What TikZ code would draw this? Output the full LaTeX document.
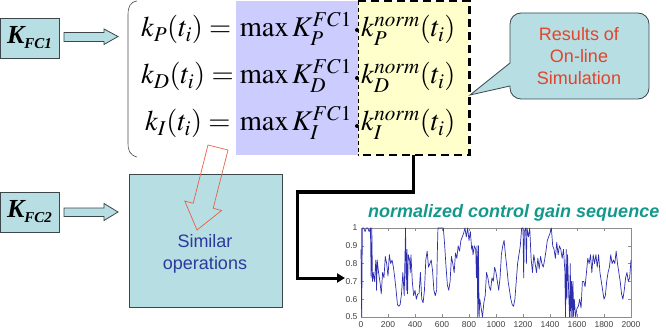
\documentclass[tikz,border=0pt]{standalone}
\usepackage{mathptmx}
\usepackage[no-math]{fontspec}
\setmainfont{Liberation Serif}
\setsansfont{Liberation Sans}
\usetikzlibrary{arrows.meta}
\definecolor{tealfill}{RGB}{183,222,226}
\definecolor{boxedge}{RGB}{60,70,75}
\definecolor{bluepanel}{RGB}{204,204,255}
\definecolor{yellowpanel}{RGB}{255,255,204}
\definecolor{redtxt}{RGB}{226,68,44}
\definecolor{simtxt}{RGB}{44,58,156}
\definecolor{titletxt}{RGB}{20,152,140}
\definecolor{plotline}{RGB}{45,45,175}
\definecolor{arrowred}{RGB}{232,96,72}
\begin{document}
\begin{tikzpicture}[x=1pt,y=-1pt,
  tealbox/.style={draw=boxedge, fill=tealfill, line width=0.8pt, inner sep=0pt},
  blockarrow/.style={draw=boxedge, fill=tealfill, line width=0.8pt},
  mathtxt/.style={inner sep=0pt, anchor=base west, font=\fontsize{28.5}{32}\selectfont},
  mathtxtr/.style={mathtxt, anchor=base east},
  kfc/.style={tealbox, minimum width=59pt, minimum height=40pt},
  sanstxt/.style={font=\sffamily\fontsize{18}{22}\selectfont, align=center, inner sep=0pt},
  ticklbl/.style={font=\sffamily\fontsize{8.5}{9}\selectfont, text=black!75, inner sep=0pt},
  gdot/.style={circle, fill=black, inner sep=0pt, minimum size=4pt}
]
\useasboundingbox (0,0) rectangle (666,331);

% K boxes
\node[kfc] (kfc1) at (29.5,38) {{\fontsize{26}{26}\selectfont\bfseries\itshape K}\raisebox{-5pt}{\fontsize{15}{15}\selectfont\bfseries\itshape FC1}};
\node[kfc] (kfc2) at (29.5,212) {{\fontsize{26}{26}\selectfont\bfseries\itshape K}\raisebox{-5pt}{\fontsize{15}{15}\selectfont\bfseries\itshape FC2}};

% block arrows
\draw[blockarrow] (64,32.5) -- (104,32.5) -- (104,29) -- (118,36.5) -- (104,44.5) -- (104,41.5) -- (64,41.5) -- cycle;
\draw[blockarrow] (64,208) -- (104,208) -- (104,203.5) -- (118,212) -- (104,220.5) -- (104,216.5) -- (64,216.5) -- cycle;

% panels
\node[fill=bluepanel, minimum width=122pt, minimum height=154pt, inner sep=0pt] (blue) at (297,78) {};
\node[fill=yellowpanel, minimum width=111pt, minimum height=154pt, inner sep=0pt] (yel) at (413.5,78) {};
\draw[line width=2.6pt, dash pattern=on 8pt off 5pt] (yel.north west) -- (yel.north east) -- (yel.south east) -- (yel.south west);
\draw[line width=0.6pt, dash pattern=on 4pt off 3pt] (yel.north west) -- (yel.south west);

% brace
\draw[line width=0.6pt, black!70] (137,1) .. controls (130,2) and (128,7) .. (128,15) -- (128,143) .. controls (128,151) and (130,155) .. (137,157);

% equations
\node[mathtxt] (l1) at (141,37) {$k_P(t_i) =$};
\node[mathtxt] (l2) at (141,84) {$k_D(t_i) =$};
\node[mathtxt] (l3) at (145,131) {$k_I(t_i) =$};
\node[mathtxtr] (m1) at (352,37) {$\max K_P^{FC1}$};
\node[mathtxtr] (m2) at (352,84) {$\max K_D^{FC1}$};
\node[mathtxtr] (m3) at (352,131) {$\max K_I^{FC1}$};
\node[gdot] (d1) at (357,30) {};
\node[gdot] (d2) at (357,78) {};
\node[gdot] (d3) at (357,126) {};
\node[mathtxt] (r1) at (361,37) {$k_P^{norm}(t_i)$};
\node[mathtxt] (r2) at (361,84) {$k_D^{norm}(t_i)$};
\node[mathtxt] (r3) at (361,131) {$k_I^{norm}(t_i)$};

% callout
\draw[draw=boxedge, fill=tealfill, line width=0.8pt] (510,63) [rounded corners=11pt]-- (510,13) -- (649,13) -- (649,99) -- (510,99) [sharp corners]-- (510,86) -- (470,95) -- cycle;
\node[sanstxt, text=redtxt] (res) at (579,56) {Results of\\On-line\\Simulation};

% similar operations box
\node[tealbox, minimum width=153pt, minimum height=133pt] (sim) at (205.5,240.5) {};
\node[sanstxt, text=simtxt] (simtext) at (205,254) {Similar\\operations};

% red hollow arrow
\draw[arrowred, line width=0.7pt, line join=miter] (208,145) -- (228,150) -- (213.2,208.3) -- (221.6,210.5) -- (197,230) -- (184.8,201.1) -- (193.2,203.3) -- cycle;

% plot
\node[draw=black!45, line width=0.5pt, minimum width=270pt, minimum height=89pt, inner sep=0pt] (plot) at (496,272.5) {};
\node[font=\sffamily\bfseries\itshape\fontsize{18}{20}\selectfont, text=titletxt, anchor=west, inner sep=0pt] (title) at (368,213) {normalized control gain sequence};
\begin{scope}[shift={(361pt,-406pt)}, x=0.135pt, y=178pt]
  \foreach \v/\l in {0.5/0.5,0.6/0.6,0.7/0.7,0.8/0.8,0.9/0.9,1/1} {
    \draw[black!45, line width=0.4pt] (0,\v) -- (25,\v);
    \draw[black!45, line width=0.4pt] (2000,\v) -- (1975,\v);
    \node[ticklbl, anchor=east] at (-25,\v) {\l};
  }
  \foreach \u in {0,200,...,2000} {
    \draw[black!45, line width=0.4pt] (\u,0.5) -- (\u,0.515);
    \draw[black!45, line width=0.4pt] (\u,1) -- (\u,0.985);
    \node[ticklbl, anchor=north] at (\u,0.475) {\u};
  }
  \draw[plotline, line width=0.7pt, line join=round] plot coordinates {
(0,0.88) (5,0.5) (10,1.0) (20,1) (30,0.98) (40,1) (50,1) (60,0.98) (70,1) (75,0.72) (80,1) (85,0.7) (90,0.75) (100,0.7) (110,0.82) (115,0.65) (120,0.82) (130,0.75) (140,0.7) (150,0.63) (160,0.75) (170,0.72) (180,0.84) (190,0.8) (200,0.73) (210,0.85) (220,0.8) (230,0.82) (240,0.78) (250,0.72) (260,0.65) (270,0.57) (280,0.56) (290,0.57) (300,0.63) (310,0.75) (320,0.62) (330,1) (335,0.65) (340,0.88) (345,0.63) (350,0.85) (360,0.82) (365,0.75) (370,0.85) (380,0.7) (390,0.62) (400,0.65) (410,0.6) (420,0.63) (430,0.63) (440,0.75) (450,0.6) (460,0.58) (470,0.65) (480,0.82) (490,0.87) (500,0.78) (510,0.8) (520,0.82) (530,0.76) (540,0.65) (550,0.62) (560,0.65) (565,0.85) (570,1) (580,1) (590,1) (600,1) (610,1) (620,0.9) (630,0.78) (640,0.68) (650,0.65) (660,0.7) (670,0.84) (680,0.8) (690,0.75) (700,0.86) (710,0.83) (720,0.9) (730,0.87) (740,0.93) (750,0.95) (760,0.97) (770,1) (780,0.95) (790,1) (800,0.93) (810,0.98) (820,0.88) (825,0.9) (830,0.85) (840,0.9) (850,0.88) (855,0.72) (860,0.9) (865,0.5) (870,0.9) (875,0.5) (880,0.6) (890,0.55) (900,0.5) (910,0.58) (920,0.62) (930,0.75) (940,0.72) (950,0.67) (960,0.65) (970,0.72) (980,0.7) (990,0.78) (1000,0.75) (1010,0.7) (1020,0.65) (1030,0.72) (1040,0.85) (1050,0.9) (1060,0.93) (1070,0.85) (1080,0.78) (1090,0.7) (1100,0.65) (1110,0.6) (1120,0.57) (1130,0.56) (1140,0.6) (1150,0.7) (1160,0.8) (1170,0.85) (1180,0.9) (1190,1) (1200,1) (1205,0.72) (1210,0.98) (1220,1) (1225,0.8) (1230,1) (1240,0.95) (1250,1) (1260,0.83) (1270,0.75) (1280,0.85) (1290,0.8) (1300,0.75) (1310,0.83) (1320,0.77) (1330,0.84) (1340,0.8) (1350,0.78) (1360,0.82) (1370,0.87) (1380,0.93) (1390,0.95) (1400,0.97) (1410,1) (1420,0.9) (1430,0.88) (1440,0.83) (1450,0.92) (1460,0.85) (1470,0.9) (1480,0.88) (1490,0.83) (1500,0.88) (1510,0.76) (1515,0.5) (1520,0.88) (1525,0.6) (1530,0.85) (1540,0.6) (1545,0.5) (1550,0.8) (1555,0.5) (1560,0.7) (1565,0.5) (1570,0.7) (1575,0.5) (1580,0.6) (1590,0.5) (1600,0.55) (1610,0.56) (1620,0.6) (1630,0.55) (1640,0.7) (1650,0.7) (1660,0.67) (1670,0.75) (1680,0.83) (1690,0.8) (1700,0.85) (1710,0.75) (1720,0.85) (1730,0.8) (1740,0.85) (1750,0.78) (1760,0.85) (1770,0.75) (1780,0.7) (1790,0.65) (1800,0.6) (1810,0.62) (1820,0.7) (1830,0.75) (1840,0.78) (1850,0.85) (1860,0.8) (1870,0.82) (1880,0.8) (1890,0.87) (1900,0.8) (1910,0.75) (1920,0.7) (1930,0.63) (1940,0.6) (1950,0.65) (1960,0.72) (1970,0.75) (1980,0.7) (1990,0.72) (2000,0.82)};
\end{scope}

% black L-shaped connector
\coordinate (ltip) at (345,278);
\draw[line width=3pt, -{Triangle[length=8pt,width=9pt]}] (yel.south -| 413,0) -- (413,192) -- (297,192) -- (297,278) -- (ltip);
\end{tikzpicture}
\end{document}
